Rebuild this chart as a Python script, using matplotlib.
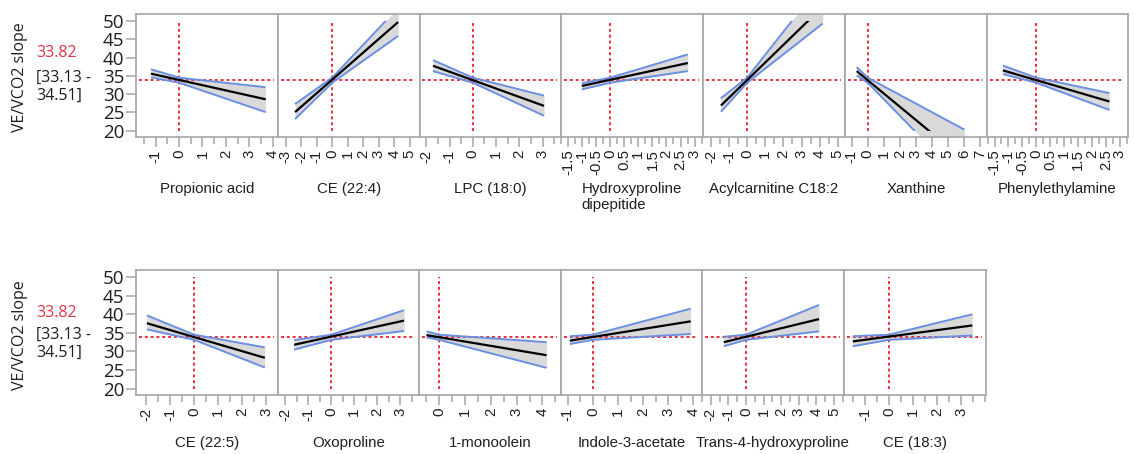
import matplotlib
matplotlib.use("Agg")
import matplotlib.pyplot as plt
from matplotlib.patches import Rectangle
import numpy as np

plt.rcParams['axes.unicode_minus'] = False

# ---------------- data ----------------
MEAN = 33.82
CI_LO, CI_HI = 33.13, 34.51

top_names = ["Propionic acid", "CE (22:4)", "LPC (18:0)", "Hydroxyproline\ndipepitide",
             "Acylcarnitine C18:2", "Xanthine", "Phenylethylamine"]
top_ranges = [(-1.84, 4.23), (-3.5, 5.63), (-2.29, 3.79), (-1.75, 3.3),
              (-2.44, 5.4), (-1.42, 7.45), (-1.77, 3.3)]
top_ticks = [[-1, 0, 1, 2, 3, 4], [-3, -2, -1, 0, 1, 2, 3, 4, 5], [-2, -1, 0, 1, 2, 3],
             [-1.5, -1, -0.5, 0, 0.5, 1, 1.5, 2, 2.5, 3], [-2, -1, 0, 1, 2, 3, 4, 5],
             [-1, 0, 1, 2, 3, 4, 5, 6, 7], [-1.5, -1, -0.5, 0, 0.5, 1, 1.5, 2, 2.5, 3]]
top_minor = [0.5, None, 0.5, 0.25, 0.5, None, 0.25]
top_x = [[-1.2, 0, 3.7], [-2.4, 0, 4.25], [-1.71, 0, 3.06], [-1.01, 0, 2.76],
         [-1.45, 0, 4.17], [-0.69, 0, 6.04], [-1.2, 0, 2.63]]
top_fit = [[35.6, 28.6], [25.1, 49.7], [37.76, 26.8], [32.25, 38.5],
           [26.9, 53.9], [36.3, 12.0], [36.5, 28.0]]
top_upper = [[36.8, CI_HI, 31.9], [27.3, CI_HI, 53.6], [39.3, CI_HI, 29.6], [33.0, CI_HI, 40.85],
             [28.9, CI_HI, 60.7], [37.4, CI_HI, 20.3], [37.8, CI_HI, 30.3]]
top_lower = [[34.6, CI_LO, 25.1], [23.2, CI_LO, 45.9], [36.3, CI_LO, 24.1], [31.3, CI_LO, 36.3],
             [25.2, CI_LO, 49.3], [35.1, CI_LO, 6.0], [35.5, CI_LO, 25.7]]

bot_names = ["CE (22:5)", "Oxoproline", "1-monoolein", "Indole-3-acetate",
             "Trans-4-hydroxyproline", "CE (18:3)"]
bot_ranges = [(-2.42, 3.49), (-2.32, 3.81), (-0.78, 4.72), (-1.27, 4.34),
              (-2.5, 5.57), (-1.875, 4.04)]
bot_ticks = [[-2, -1, 0, 1, 2, 3], [-2, -1, 0, 1, 2, 3], [0, 1, 2, 3, 4],
             [-1, 0, 1, 2, 3, 4], [-2, -1, 0, 1, 2, 3, 4, 5], [-1, 0, 1, 2, 3]]
bot_minor = [0.5, 0.5, 0.5, 0.5, 0.5, 0.5]
bot_x = [[-1.97, 0, 2.94], [-1.62, 0, 3.16], [-0.49, 0, 4.16], [-0.92, 0, 3.89],
         [-1.26, 0, 4.15], [-1.51, 0, 3.47]]
bot_fit = [[37.6, 28.3], [31.8, 38.3], [34.4, 29.0], [32.9, 38.1],
           [32.5, 38.7], [32.7, 37.0]]
bot_upper = [[39.7, CI_HI, 31.1], [33.06, CI_HI, 41.1], [35.4, CI_HI, 32.5], [34.1, CI_HI, 41.5],
             [33.96, CI_HI, 42.5], [34.1, CI_HI, 40.0]]
bot_lower = [[35.95, CI_LO, 25.7], [30.5, CI_LO, 35.5], [33.8, CI_LO, 25.6], [32.0, CI_LO, 34.7],
             [31.4, CI_LO, 35.4], [31.4, CI_LO, 34.3]]

y_ticks = [20, 25, 30, 35, 40, 45, 50]

# ---------------- styles ----------------
GREY = "#a6a6a6"
FILL = "#d9d9d9"
BLUE = "#6b8fe0"
RED = "#e8303c"
RED_TXT = "#e0364a"
SANS = "Liberation Sans"
SEGOE = "Open Sans"
TXT = "#1e1e1e"

W, H = 1134, 454
fig = plt.figure(figsize=(W / 100, H / 100), dpi=100)


def add_ax(l, r, t, b):
    return fig.add_axes([l / W, 1 - b / H, (r - l) / W, (b - t) / H])


def fmt(v):
    return "{:g}".format(v)


def draw(ax, rng, ticks, minor, xs, fit, up, lo, first):
    ax.set_xlim(rng)
    ax.set_ylim(18.3, 51.9)
    ax.fill_between(xs, lo, up, color=FILL, lw=0, zorder=1)
    clip = Rectangle((rng[0], 20), rng[1] - rng[0], 30, transform=ax.transData)
    for yy in (up, lo):
        ln, = ax.plot(xs, yy, color=BLUE, lw=1.4, zorder=3, solid_capstyle="butt")
        ln.set_clip_path(clip)
    ln, = ax.plot([xs[0], xs[-1]], fit, color="black", lw=1.6, zorder=4, solid_capstyle="butt")
    ln.set_clip_path(clip)
    ax.axhline(MEAN, xmin=0.02, xmax=0.97, color=RED, lw=1.4, ls=(0, (1.5, 1.5)), zorder=2)
    ax.plot([0, 0], [20, 50], color=RED, lw=1.4, ls=(0, (1.5, 1.5)), zorder=2)
    for s in ax.spines.values():
        s.set_color(GREY)
        s.set_linewidth(1.2)
    ax.set_xticks(ticks)
    ax.set_xticklabels([fmt(t) for t in ticks], rotation=90, family=SANS, fontsize=10.8,
                       color=TXT)
    if minor:
        mt = np.arange(ticks[0] - 2, ticks[-1] + 2 + minor / 2, minor)
        mt = [m for m in mt if rng[0] <= m <= rng[1] and not np.isclose(m, ticks).any()]
        ax.set_xticks(mt, minor=True)
    ax.tick_params(axis="x", which="major", direction="out", length=7, width=1.1,
                   color=GREY, pad=2)
    ax.tick_params(axis="x", which="minor", direction="out", length=5, width=1.1,
                   color=GREY)
    if first:
        ax.set_yticks(y_ticks)
        ax.set_yticklabels([str(v) for v in y_ticks], family=SEGOE, fontsize=13.5,
                           color=TXT)
        ax.tick_params(axis="y", direction="out", length=7, width=1.1, color=GREY, pad=1.5)
    else:
        ax.set_yticks([])


top_edges = [136, 278, 419.5, 561, 703, 845, 987, 1128]
bot_edges = [136, 278, 419, 561, 702, 844, 986]

for i in range(len(top_names)):
    ax = add_ax(top_edges[i], top_edges[i + 1], 14, 137)
    draw(ax, top_ranges[i], top_ticks[i], top_minor[i], top_x[i], top_fit[i],
         top_upper[i], top_lower[i], i == 0)
    fig.text((top_edges[i] + top_edges[i + 1]) / 2 / W, 1 - 182 / H, top_names[i],
             ha="center", va="top", multialignment="left", family=SANS, fontsize=10.8,
             color=TXT, linespacing=1.15)

for i in range(len(bot_names)):
    ax = add_ax(bot_edges[i], bot_edges[i + 1], 270, 395)
    draw(ax, bot_ranges[i], bot_ticks[i], bot_minor[i], bot_x[i], bot_fit[i],
         bot_upper[i], bot_lower[i], i == 0)
    fig.text((bot_edges[i] + bot_edges[i + 1]) / 2 / W, 1 - 436 / H, bot_names[i],
             ha="center", va="top", family=SANS, fontsize=10.8, color=TXT)

for yc, ym, y1, y2 in [(77.5, 53, 78, 96), (335, 313, 335, 353)]:
    fig.text(20 / W, 1 - yc / H, "VE/VCO2 slope", rotation=90, ha="center", va="center",
             family=SEGOE, fontsize=11.5, color=TXT)
    fig.text(36 / W, 1 - ym / H, "{:.2f}".format(MEAN), ha="left", va="center",
             family=SEGOE, fontsize=11.5, color=RED_TXT)
    fig.text(36 / W, 1 - y1 / H, "[{:.2f} -".format(CI_LO), ha="left", va="center",
             family=SEGOE, fontsize=11.5, color=TXT)
    fig.text(36 / W, 1 - y2 / H, "{:.2f}]".format(CI_HI), ha="left", va="center",
             family=SEGOE, fontsize=11.5, color=TXT)

fig.savefig("out.png", dpi=100)
